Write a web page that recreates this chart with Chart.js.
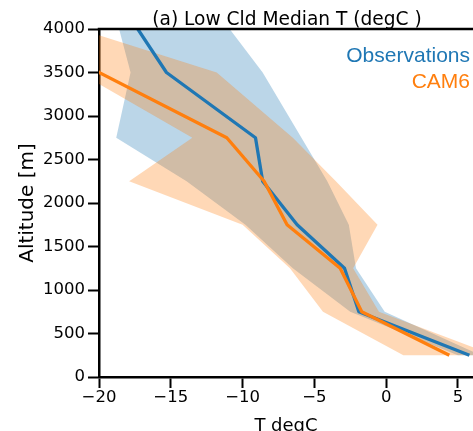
<!DOCTYPE html>
<html>
<head>
<meta charset="utf-8">
<script src="https://cdn.jsdelivr.net/npm/chart.js@4.4.1/dist/chart.umd.min.js"></script>
<style>
  html, body { margin: 0; padding: 0; background: #fff; }
  #wrap { width: 473px; height: 431px; position: relative; }
</style>
</head>
<body>
<div id="wrap"><canvas id="c"></canvas></div>
<script>
// Profiles: altitude (m) vs temperature (degC)
const obsAlt = [250, 750, 1250, 1750, 2250, 2750, 3500, 4000];
const obsMed = [5.8, -1.9, -2.9, -6.2, -8.6, -9.1, -15.3, -17.3];
const obsLo  = [5.0, -2.5, -6.5, -9.8, -13.9, -18.8, -17.8, -18.6];
const obsHi  = [6.6, -0.1, -2.1, -2.6, -4.1, -5.9, -8.6, -10.9];

const camAlt = [250, 750, 1250, 1750, 2250, 2750, 3500, 4000];
const camMed = [4.4, -1.7, -3.2, -6.9, -8.5, -11.1, -20.0, -23.5];
const camLo  = [1.2, -4.4, -6.7, -10.0, -17.9, -13.5, -21.4, -26.0];
const camHi  = [7.5, -0.5, -2.3, -0.6, -3.5, -6.5, -11.8, -21.4];

const xTicks = [-20, -15, -10, -5, 0, 5];
const yTicks = [0, 500, 1000, 1500, 2000, 2500, 3000, 3500, 4000];

const seriesNames  = ['Observations', 'CAM6'];
const seriesColors = ['#1f77b4', '#ff7f0e'];
const titleText = '(a) Low Cld Median T (degC )';

const profile = (t, alt) => t.map((v, i) => ({x: v, y: alt[i]}));
// closed polygon: down the low edge, back up the high edge
const band = (lo, hi, alt) => [...profile(lo, alt), ...profile(hi, alt).reverse()];
const minus = v => String(v).replace('-', '\u2212');

// top spine, title and text legend
const figText = {
  id: 'figText',
  afterDraw(chart) {
    const {ctx, chartArea: a} = chart;
    ctx.save();
    ctx.strokeStyle = '#000'; ctx.lineWidth = 2.5;
    ctx.beginPath(); ctx.moveTo(a.left - 1.25, a.top); ctx.lineTo(a.right, a.top); ctx.stroke();
    ctx.fillStyle = '#000';
    ctx.font = '18.6px "DejaVu Sans"';
    ctx.textAlign = 'center'; ctx.textBaseline = 'alphabetic';
    ctx.fillText(titleText, (a.left + a.right) / 2 + 1, 25);
    ctx.font = '21px "Liberation Sans"';
    ctx.textAlign = 'right';
    seriesNames.forEach((n, i) => {
      ctx.fillStyle = seriesColors[i];
      ctx.fillText(n, a.right - 3, 62 + i * 25.5);
    });
    ctx.restore();
  }
};

const tickFont = {family: 'DejaVu Sans', size: 16.5};

new Chart(document.getElementById('c'), {
  type: 'line',
  data: {
    datasets: [
      {label: 'obs band', data: band(obsLo, obsHi, obsAlt), fill: 'shape',
       backgroundColor: 'rgba(31,119,180,0.3)', borderColor: 'transparent', borderWidth: 0,
       pointRadius: 0, order: 4, clip: 0},
      {label: 'cam band', data: band(camLo, camHi, camAlt), fill: 'shape',
       backgroundColor: 'rgba(255,127,14,0.3)', borderColor: 'transparent', borderWidth: 0,
       pointRadius: 0, order: 3, clip: 0},
      {label: seriesNames[0], data: profile(obsMed, obsAlt), borderColor: seriesColors[0],
       borderWidth: 3.3, pointRadius: 0, fill: false, order: 2, clip: 0, borderJoinStyle: 'round'},
      {label: seriesNames[1], data: profile(camMed, camAlt), borderColor: seriesColors[1],
       borderWidth: 3.3, pointRadius: 0, fill: false, order: 1, clip: 0, borderJoinStyle: 'round'}
    ]
  },
  options: {
    responsive: true, maintainAspectRatio: false, animation: false,
    layout: {padding: {top: 29, right: 0, bottom: 0, left: 0}},
    elements: {line: {tension: 0}},
    plugins: {legend: {display: false}, tooltip: {enabled: false}},
    scales: {
      x: {
        type: 'linear', min: -20, max: 6.05, z: 1,
        afterBuildTicks: s => { s.ticks = xTicks.map(v => ({value: v})); },
        afterFit: s => { s.height = 54; },
        border: {color: '#000', width: 2.5},
        grid: {drawOnChartArea: false, color: '#000', tickLength: 11, tickWidth: 2},
        ticks: {color: '#000', font: tickFont, padding: 0, maxRotation: 0, callback: minus},
        title: {display: true, text: 'T degC', color: '#000',
                font: {family: 'DejaVu Sans', size: 18}, padding: {top: 0, bottom: -6}}
      },
      y: {
        type: 'linear', min: 0, max: 4000, z: 1,
        afterBuildTicks: s => { s.ticks = yTicks.map(v => ({value: v})); },
        afterFit: s => { s.width = 99; },
        border: {color: '#000', width: 2.5},
        grid: {drawOnChartArea: false, color: '#000', tickLength: 11, tickWidth: 2},
        ticks: {color: '#000', font: tickFont, padding: 3, callback: v => String(v)},
        title: {display: true, text: 'Altitude [m]', color: '#000',
                font: {family: 'DejaVu Sans', size: 20}, padding: {top: 16, bottom: 0}}
      }
    }
  },
  plugins: [figText]
});
</script>
</body>
</html>
